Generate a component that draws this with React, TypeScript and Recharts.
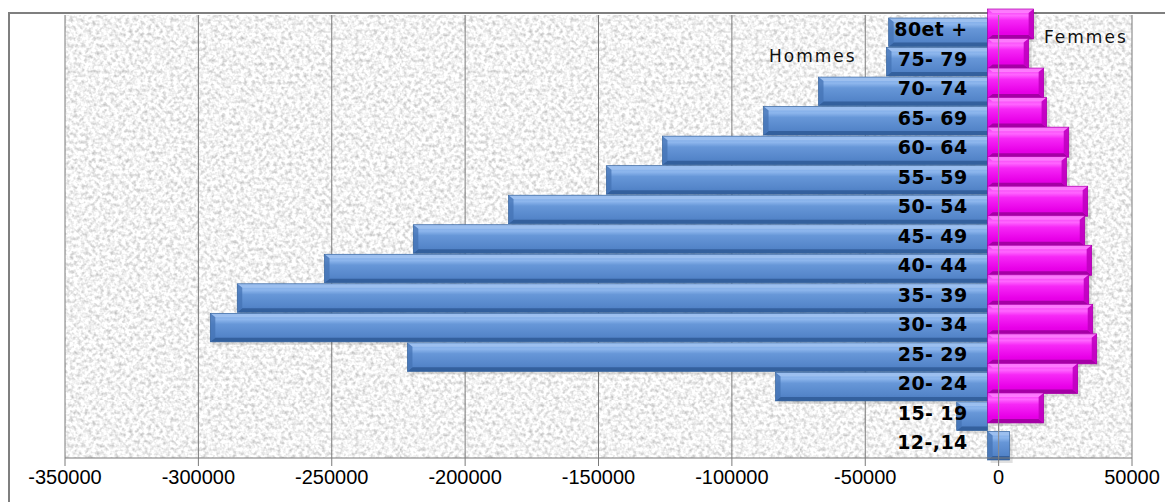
import { BarChart, Bar, XAxis, YAxis, CartesianGrid, ReferenceLine, LabelList } from 'recharts'

// top row first
const ageGroups = ['80et +', '75- 79', '70- 74', '65- 69', '60- 64', '55- 59', '50- 54', '45- 49', '40- 44', '35- 39', '30- 34', '25- 29', '20- 24', '15- 19', '12-,14']
const hommes = [-37100, -37900, -63400, -84000, -121900, -142900, -179600, -215300, -248600, -281300, -291400, -217500, -79500, -11600, 8250]
const femmes = [17250, 15400, 21000, 22100, 30400, 29600, 37500, 36400, 39000, 37900, 39400, 40900, 33750, 21000, 0]
const xTicks = [-350000, -300000, -250000, -200000, -150000, -100000, -50000, 0, 50000]

const data = ageGroups.map((age, i) => ({ age, hommes: hommes[i], femmes: femmes[i] }))

const DEPTH_X = 11 // front face of the 3d bars sits left of the wall gridlines
const BEVEL = 5

type Palette = { grad: string; top: string; bottom: string; side: string; stroke: string }
const bluePal: Palette = { grad: 'url(#blueBevel)', top: '#a6c6f2', bottom: '#2f5b96', side: '#4473b4', stroke: '#3b679f' }
const pinkPal: Palette = { grad: 'url(#pinkBevel)', top: '#ff8cff', bottom: '#9a009a', side: '#c000c0', stroke: '#a800a8' }

function bevelBar(left: number, top: number, w: number, h: number, pal: Palette, rightEnd: boolean) {
  const b = Math.min(BEVEL, w / 2)
  const r = left + w
  return (
    <g>
      <rect x={left + 3} y={top + 3} width={w} height={h} fill="#000" opacity={0.12} />
      <rect x={left} y={top} width={w} height={h} fill={pal.grad} />
      <polygon points={`${left},${top} ${r},${top} ${r - (rightEnd ? b : 0)},${top + 4} ${left + b},${top + 4}`} fill={pal.top} opacity={0.75} />
      <polygon points={`${left + b},${top + h - 4} ${r - (rightEnd ? b : 0)},${top + h - 4} ${r},${top + h} ${left},${top + h}`} fill={pal.bottom} opacity={0.85} />
      {rightEnd ? (
        <polygon points={`${r},${top} ${r - b},${top + 4} ${r - b},${top + h - 4} ${r},${top + h}`} fill={pal.side} opacity={0.9} />
      ) : (
        <polygon points={`${left},${top} ${left + b},${top + 4} ${left + b},${top + h - 4} ${left},${top + h}`} fill={pal.side} opacity={0.75} />
      )}
      <rect x={left} y={top} width={w} height={h} fill="none" stroke={pal.stroke} strokeWidth={0.7} />
    </g>
  )
}

// hommes sits in the first slot of the band, femmes in the second
function HommesShape(props: any) {
  const { x, y, width, height } = props
  if (!width) return null
  const left = Math.min(x, x + width) - DEPTH_X
  const w = Math.abs(width)
  const c = y + height
  return bevelBar(left, c - 12, w, 28.5, bluePal, false)
}

function FemmesShape(props: any) {
  const { x, y, width } = props
  if (!width) return null
  const left = Math.min(x, x + width) - DEPTH_X
  const w = Math.abs(width)
  const c = y
  return bevelBar(left, c - 21, w, 30, pinkPal, true)
}

function AgeLabel(props: any) {
  const vb = props.viewBox ?? props
  return (
    <text
      x={vb.x - 31}
      y={vb.y - 1}
      textAnchor="end"
      dominantBaseline="central"
      fontFamily="DejaVu Sans"
      fontWeight="bold"
      fontSize={19}
      letterSpacing={0.4}
      fill="#000"
    >
      {props.value}
    </text>
  )
}

export default function App() {
  return (
    <div style={{ position: 'absolute', left: 0, top: 0, width: 1165, height: 502, overflow: 'hidden', background: '#fff' }}>
      <div style={{ position: 'absolute', left: 8, top: 12, width: 1300, height: 600, border: '2px solid #7f7f7f' }} />
      <BarChart
        width={1165}
        height={502}
        data={data}
        layout="vertical"
        margin={{ top: 15, right: 33, left: 65, bottom: 14 }}
        barCategoryGap={0}
        barGap={0}
      >
        <defs>
          <filter id="graniteNoise" x="0" y="0" width="100%" height="100%" colorInterpolationFilters="sRGB">
            <feTurbulence type="fractalNoise" baseFrequency="0.27" numOctaves={2} seed={7} />
            <feColorMatrix type="matrix" values="0.5 0 0 0 0.7  0.5 0 0 0 0.7  0.5 0 0 0 0.7  0 0 0 0 1" />
          </filter>
          <pattern id="granite" patternUnits="userSpaceOnUse" width={400} height={400}>
            <rect width={400} height={400} filter="url(#graniteNoise)" />
          </pattern>
          <linearGradient id="blueBevel" x1="0" y1="0" x2="0" y2="1">
            <stop offset="0%" stopColor="#78a6e4" />
            <stop offset="22%" stopColor="#8db6ed" />
            <stop offset="38%" stopColor="#6797d8" />
            <stop offset="78%" stopColor="#5586ca" />
            <stop offset="100%" stopColor="#4a7bbf" />
          </linearGradient>
          <linearGradient id="pinkBevel" x1="0" y1="0" x2="0" y2="1">
            <stop offset="0%" stopColor="#f030f0" />
            <stop offset="22%" stopColor="#ff66ff" />
            <stop offset="38%" stopColor="#f628f6" />
            <stop offset="78%" stopColor="#e800e8" />
            <stop offset="100%" stopColor="#dc00dc" />
          </linearGradient>
        </defs>
        <CartesianGrid vertical horizontal={false} stroke="#7a7a7a" fill="url(#granite)" />
        <XAxis
          type="number"
          domain={[-350000, 50000]}
          ticks={xTicks}
          allowDataOverflow
          height={30}
          tickSize={8}
          tickMargin={4}
          stroke="#7a7a7a"
          tick={{ fill: '#000', fontSize: 20, fontFamily: 'Liberation Sans' }}
        />
        <YAxis type="category" dataKey="age" hide />
        <Bar dataKey="hommes" shape={HommesShape} isAnimationActive={false} />
        <Bar dataKey="femmes" shape={FemmesShape} isAnimationActive={false}>
          <LabelList dataKey="age" content={AgeLabel} />
        </Bar>
        <ReferenceLine x={0} stroke="#8c8c8c" strokeWidth={1} />
      </BarChart>
      <svg width={1165} height={502} style={{ position: 'absolute', left: 0, top: 0, pointerEvents: 'none' }}>
        <text x={769} y={62} fontFamily="DejaVu Sans" fontSize={17} letterSpacing={2} fill="#111">Hommes</text>
        <text x={1044} y={43} fontFamily="DejaVu Sans" fontSize={17} letterSpacing={2} fill="#111">Femmes</text>
      </svg>
    </div>
  )
}
